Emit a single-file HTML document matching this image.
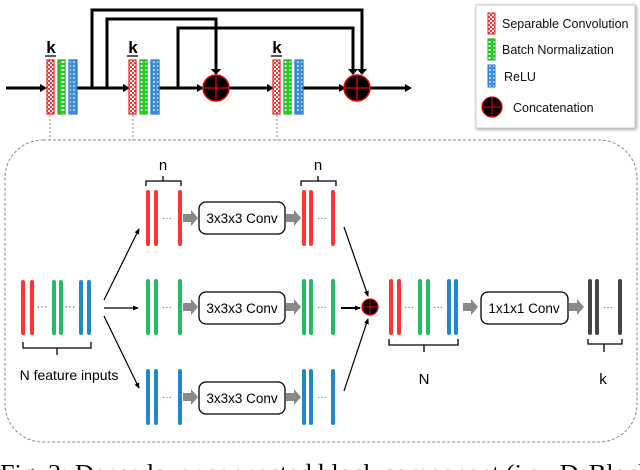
<!DOCTYPE html>
<html><head><meta charset="utf-8"><style>
html,body{margin:0;padding:0;background:#fff;width:640px;height:470px;overflow:hidden}
svg{display:block}
text{font-family:"Liberation Sans","DejaVu Sans",sans-serif}
</style></head><body>
<svg width="640" height="470" viewBox="0 0 640 470" xmlns="http://www.w3.org/2000/svg">
<defs>
<marker id="as" markerWidth="6" markerHeight="6" refX="5" refY="3" orient="auto" markerUnits="userSpaceOnUse"><path d="M0,0.5 L6,3 L0,5.5 Z" fill="#000"/></marker>
<pattern id="pr" width="4" height="4" patternUnits="userSpaceOnUse"><rect width="4" height="4" fill="#fff"/><rect width="2" height="2" fill="#f33"/><rect x="2" y="2" width="2" height="2" fill="#f33"/></pattern>
<pattern id="pg" width="6" height="4" patternUnits="userSpaceOnUse"><rect width="6" height="4" fill="#2c2"/><rect x="1.5" y="1" width="3" height="2" fill="#fff"/></pattern>
<pattern id="pb" width="4" height="4" patternUnits="userSpaceOnUse"><rect width="4" height="4" fill="#3a8fd8"/><circle cx="2" cy="2" r="1" fill="#cde"/></pattern>
</defs>

<g stroke="#000" stroke-width="3" fill="none">
<path d="M92,88 V10 H362 V70"/>
<path d="M107,88 V19 H216 V70"/>
<path d="M178,88 V28 H353 V70"/>
</g>
<g fill="#000"><path d="M357,69 L362,75 L367,69Z"/><path d="M211,69 L216,75 L221,69Z"/><path d="M348,69 L353,75 L358,69Z"/></g>
<g stroke="#000" stroke-width="3" fill="none">
<line x1="6" y1="88" x2="40" y2="88"/>
<line x1="77" y1="88" x2="124" y2="88"/>
<line x1="159" y1="88" x2="198" y2="88"/>
<line x1="229" y1="88" x2="268" y2="88"/>
<line x1="303" y1="88" x2="340" y2="88"/>
<line x1="370" y1="88" x2="406" y2="88"/>
</g>
<g fill="#000">
<path d="M40,84 L47,88 L40,92Z"/><path d="M123,84 L130,88 L123,92Z"/><path d="M197,84 L204,88 L197,92Z"/>
<path d="M267,84 L274,88 L267,92Z"/><path d="M339,84 L346,88 L339,92Z"/><path d="M405,84 L412,88 L405,92Z"/>
</g>
<g stroke-width="1.2">
<rect x="47" y="60" width="7" height="54" fill="url(#pr)" stroke="#e22"/>
<rect x="58" y="60" width="7" height="54" fill="url(#pg)" stroke="#2a2"/>
<rect x="69" y="60" width="8" height="54" fill="url(#pb)" stroke="#27c"/>
<rect x="129" y="60" width="7" height="54" fill="url(#pr)" stroke="#e22"/>
<rect x="140" y="60" width="7" height="54" fill="url(#pg)" stroke="#2a2"/>
<rect x="151" y="60" width="8" height="54" fill="url(#pb)" stroke="#27c"/>
<rect x="273" y="60" width="7" height="54" fill="url(#pr)" stroke="#e22"/>
<rect x="284" y="60" width="7" height="54" fill="url(#pg)" stroke="#2a2"/>
<rect x="295" y="60" width="8" height="54" fill="url(#pb)" stroke="#27c"/>
</g>
<g font-weight="bold" font-size="17" text-anchor="middle">
<text x="51" y="53">k</text><text x="133" y="53">k</text><text x="277" y="53">k</text>
</g>
<g stroke="#000" stroke-width="1.3"><line x1="45" y1="56" x2="56" y2="56"/><line x1="127" y1="56" x2="138" y2="56"/><line x1="271" y1="56" x2="282" y2="56"/></g>
<g>
<circle cx="216" cy="88" r="13" fill="#000" stroke="#e00" stroke-width="1.5"/>
<line x1="203" y1="88" x2="229" y2="88" stroke="#e00" stroke-width="1.3"/><line x1="216" y1="75" x2="216" y2="101" stroke="#e00" stroke-width="1.3"/>
<circle cx="357" cy="88" r="13" fill="#000" stroke="#e00" stroke-width="1.5"/>
<line x1="344" y1="88" x2="370" y2="88" stroke="#e00" stroke-width="1.3"/><line x1="357" y1="75" x2="357" y2="101" stroke="#e00" stroke-width="1.3"/>
</g>
<g stroke="#888" stroke-width="1" stroke-dasharray="2,2">
<line x1="50" y1="115" x2="50" y2="140"/><line x1="133" y1="115" x2="133" y2="140"/><line x1="277" y1="115" x2="277" y2="140"/>
</g>
<rect x="476" y="5" width="159" height="123" fill="#fff" stroke="#ccc" stroke-width="1" style="filter:drop-shadow(1px 1px 1.5px #999)"/>
<rect x="488" y="13" width="7" height="21" fill="url(#pr)" stroke="#e22"/>
<rect x="488" y="39" width="7" height="21" fill="url(#pg)" stroke="#2a2"/>
<rect x="488" y="65" width="7" height="22" fill="url(#pb)" stroke="#27c"/>
<circle cx="492" cy="107" r="10" fill="#000" stroke="#e00" stroke-width="1.3"/>
<line x1="482" y1="107" x2="502" y2="107" stroke="#e00"/><line x1="492" y1="97" x2="492" y2="117" stroke="#e00"/>
<g font-size="12.5" fill="#111">
<text x="502" y="28">Separable Convolution</text>
<text x="502" y="54">Batch Normalization</text>
<text x="504" y="81">ReLU</text>
<text x="513" y="112">Concatenation</text>
</g>

<rect x="5" y="140" width="632" height="302" rx="38" fill="none" stroke="#888" stroke-width="1" stroke-dasharray="3,2"/>

<g stroke-width="4" stroke-linecap="round">
<g stroke="#f33"><line x1="23" y1="282" x2="23" y2="333"/><line x1="32" y1="282" x2="32" y2="333"/></g>
<g stroke="#2b6"><line x1="54" y1="282" x2="54" y2="333"/><line x1="61" y1="282" x2="61" y2="333"/></g>
<g stroke="#28c"><line x1="81" y1="282" x2="81" y2="333"/><line x1="89" y1="282" x2="89" y2="333"/></g>
</g>
<g font-size="11" text-anchor="middle" fill="#333"><text x="42" y="310">···</text><text x="70" y="310">···</text></g>
<path d="M23,342 V348 H91 V342 M57,348 V355" fill="none" stroke="#000" stroke-width="1.3"/>
<text x="69" y="380" font-size="14" text-anchor="middle">N feature inputs</text>

<g stroke="#000" stroke-width="1.2">
<line x1="104" y1="300" x2="139" y2="229" marker-end="url(#as)"/>
<line x1="104" y1="308" x2="138" y2="308" marker-end="url(#as)"/>
<line x1="104" y1="316" x2="139" y2="388" marker-end="url(#as)"/>
</g>

<g stroke-width="4" stroke-linecap="round">
<g stroke="#f33"><line x1="148" y1="192" x2="148" y2="244"/><line x1="156" y1="192" x2="156" y2="244"/><line x1="180" y1="192" x2="180" y2="244"/>
<line x1="304" y1="192" x2="304" y2="244"/><line x1="311" y1="192" x2="311" y2="244"/><line x1="333" y1="192" x2="333" y2="244"/></g>
<g stroke="#2b6"><line x1="148" y1="281" x2="148" y2="333"/><line x1="156" y1="281" x2="156" y2="333"/><line x1="180" y1="281" x2="180" y2="333"/>
<line x1="304" y1="281" x2="304" y2="333"/><line x1="311" y1="281" x2="311" y2="333"/><line x1="333" y1="281" x2="333" y2="333"/></g>
<g stroke="#28c"><line x1="148" y1="371" x2="148" y2="423"/><line x1="156" y1="371" x2="156" y2="423"/><line x1="180" y1="371" x2="180" y2="423"/>
<line x1="304" y1="371" x2="304" y2="423"/><line x1="311" y1="371" x2="311" y2="423"/><line x1="333" y1="371" x2="333" y2="423"/></g>
</g>
<g font-size="10" text-anchor="middle" fill="#555">
<text x="167" y="221">···</text><text x="322" y="221">···</text>
<text x="167" y="310">···</text><text x="322" y="310">···</text>
<text x="167" y="400">···</text><text x="322" y="400">···</text>
</g>
<g fill="#888">
<path d="M183,214 h8 v-4 l7,8 l-7,8 v-4 h-8z"/><path d="M286,214 h8 v-4 l7,8 l-7,8 v-4 h-8z"/>
<path d="M183,303 h8 v-4 l7,8 l-7,8 v-4 h-8z"/><path d="M286,303 h8 v-4 l7,8 l-7,8 v-4 h-8z"/>
<path d="M183,393 h8 v-4 l7,8 l-7,8 v-4 h-8z"/><path d="M286,393 h8 v-4 l7,8 l-7,8 v-4 h-8z"/>
</g>
<g fill="#fff" stroke="#000" stroke-width="1.3">
<rect x="199" y="202" width="86" height="32" rx="7"/>
<rect x="199" y="292" width="86" height="32" rx="7"/>
<rect x="199" y="382" width="86" height="32" rx="7"/>
</g>
<g font-size="13.5" text-anchor="middle">
<text x="242" y="223">3x3x3 Conv</text><text x="242" y="313">3x3x3 Conv</text><text x="242" y="403">3x3x3 Conv</text>
</g>
<path d="M146,186 V181 H181 V186 M163,181 V176" fill="none" stroke="#000" stroke-width="1.3"/>
<path d="M301,186 V181 H336 V186 M318,181 V176" fill="none" stroke="#000" stroke-width="1.3"/>
<g font-size="15" text-anchor="middle"><text x="163" y="170">n</text><text x="318" y="170">n</text></g>

<g stroke="#000" stroke-width="1.2">
<line x1="344" y1="227" x2="368" y2="296" marker-end="url(#as)"/>
<line x1="341" y1="308" x2="360" y2="308" stroke-width="2" marker-end="url(#as)"/>
<line x1="344" y1="391" x2="368" y2="319" marker-end="url(#as)"/>
</g>
<circle cx="370" cy="307" r="8" fill="#000" stroke="#e00" stroke-width="1.3"/>
<line x1="362" y1="307" x2="378" y2="307" stroke="#e00"/><line x1="370" y1="299" x2="370" y2="315" stroke="#e00"/>

<g stroke-width="4" stroke-linecap="round">
<g stroke="#f33"><line x1="391" y1="281" x2="391" y2="333"/><line x1="399" y1="281" x2="399" y2="333"/></g>
<g stroke="#2b6"><line x1="420" y1="281" x2="420" y2="333"/><line x1="428" y1="281" x2="428" y2="333"/></g>
<g stroke="#28c"><line x1="449" y1="281" x2="449" y2="333"/><line x1="456" y1="281" x2="456" y2="333"/></g>
<g stroke="#444"><line x1="590" y1="281" x2="590" y2="333"/><line x1="597" y1="281" x2="597" y2="333"/><line x1="620" y1="281" x2="620" y2="333"/></g>
</g>
<g font-size="10" text-anchor="middle" fill="#555"><text x="409" y="310">···</text><text x="438" y="310">···</text><text x="608" y="310">···</text></g>
<path d="M389,339 V345 H458 V339 M424,345 V352" fill="none" stroke="#000" stroke-width="1.3"/>
<path d="M588,339 V344 H622 V339 M604,344 V352" fill="none" stroke="#000" stroke-width="1.3"/>
<g font-size="15" text-anchor="middle"><text x="424" y="384">N</text><text x="603" y="384">k</text></g>
<g fill="#888">
<path d="M463,303 h8 v-4 l7,8 l-7,8 v-4 h-8z"/><path d="M569,303 h8 v-4 l7,8 l-7,8 v-4 h-8z"/>
</g>
<rect x="481" y="292" width="87" height="32" rx="7" fill="#fff" stroke="#000" stroke-width="1.3"/>
<text x="524" y="313" font-size="13.5" text-anchor="middle">1x1x1 Conv</text>

<text x="0" y="481" font-size="24" textLength="660" lengthAdjust="spacingAndGlyphs" style="font-family:'Liberation Serif',serif">Fig. 3: Dense layer connected block component (i.e., DsBlock)</text>
</svg>
</body></html>
